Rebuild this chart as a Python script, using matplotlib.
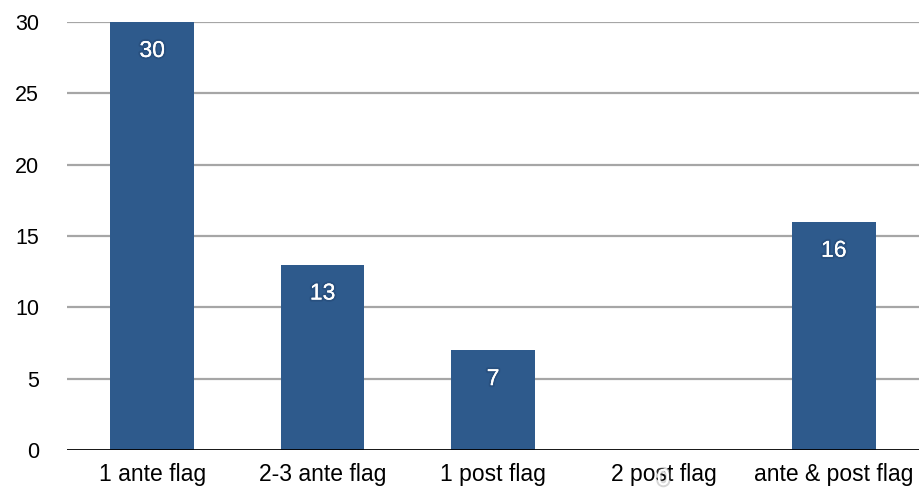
import matplotlib
matplotlib.use("Agg")
import matplotlib.pyplot as plt
import matplotlib.patheffects as pe

categories = ["1 ante flag", "2-3 ante flag", "1 post flag", "2 post flag", "ante & post flag"]
counts = [30, 13, 7, 0, 16]
y_ticks = [0, 5, 10, 15, 20, 25, 30]

plt.rcParams["font.family"] = ["Liberation Sans", "DejaVu Sans"]

fig = plt.figure(figsize=(9.19, 4.9), dpi=100)
ax = fig.add_axes([67 / 919, 1 - 450 / 490, 852 / 919, (450 - 22) / 490])

x = list(range(len(categories)))
ax.bar(x, counts, width=0.49, color="#2E5A8C", zorder=3)

ax.set_xlim(-0.5, len(categories) - 0.5)
ax.set_ylim(0, 30)
ax.set_yticks(y_ticks)
ax.set_yticklabels([str(t) for t in y_ticks], fontsize=15.5)
ax.set_xticks(x)
ax.set_xticklabels(categories, fontsize=16.5)
ax.tick_params(axis="y", length=0, pad=20)
ax.tick_params(axis="x", length=0, pad=9)

for t in y_ticks[1:]:
    ax.axhline(t, color="#A6A6A6", linewidth=1.6, zorder=1)
ax.axhline(0, color="black", linewidth=2.0, zorder=4)

for s in ax.spines.values():
    s.set_visible(False)

for xi, v in zip(x, counts):
    if v > 0:
        effects = [pe.withStroke(linewidth=3, foreground=(0.1, 0.2, 0.35, 0.25)), pe.Normal()]
    else:
        effects = [pe.withStroke(linewidth=3, foreground=(0.55, 0.55, 0.55, 0.35)), pe.Normal()]
    ax.annotate(str(v), xy=(xi, v), xytext=(0, -20.5), textcoords="offset points",
                ha="center", va="center", color="white", fontsize=16.5, zorder=5,
                path_effects=effects, annotation_clip=False)

fig.savefig("out.png", dpi=100, facecolor="white")
